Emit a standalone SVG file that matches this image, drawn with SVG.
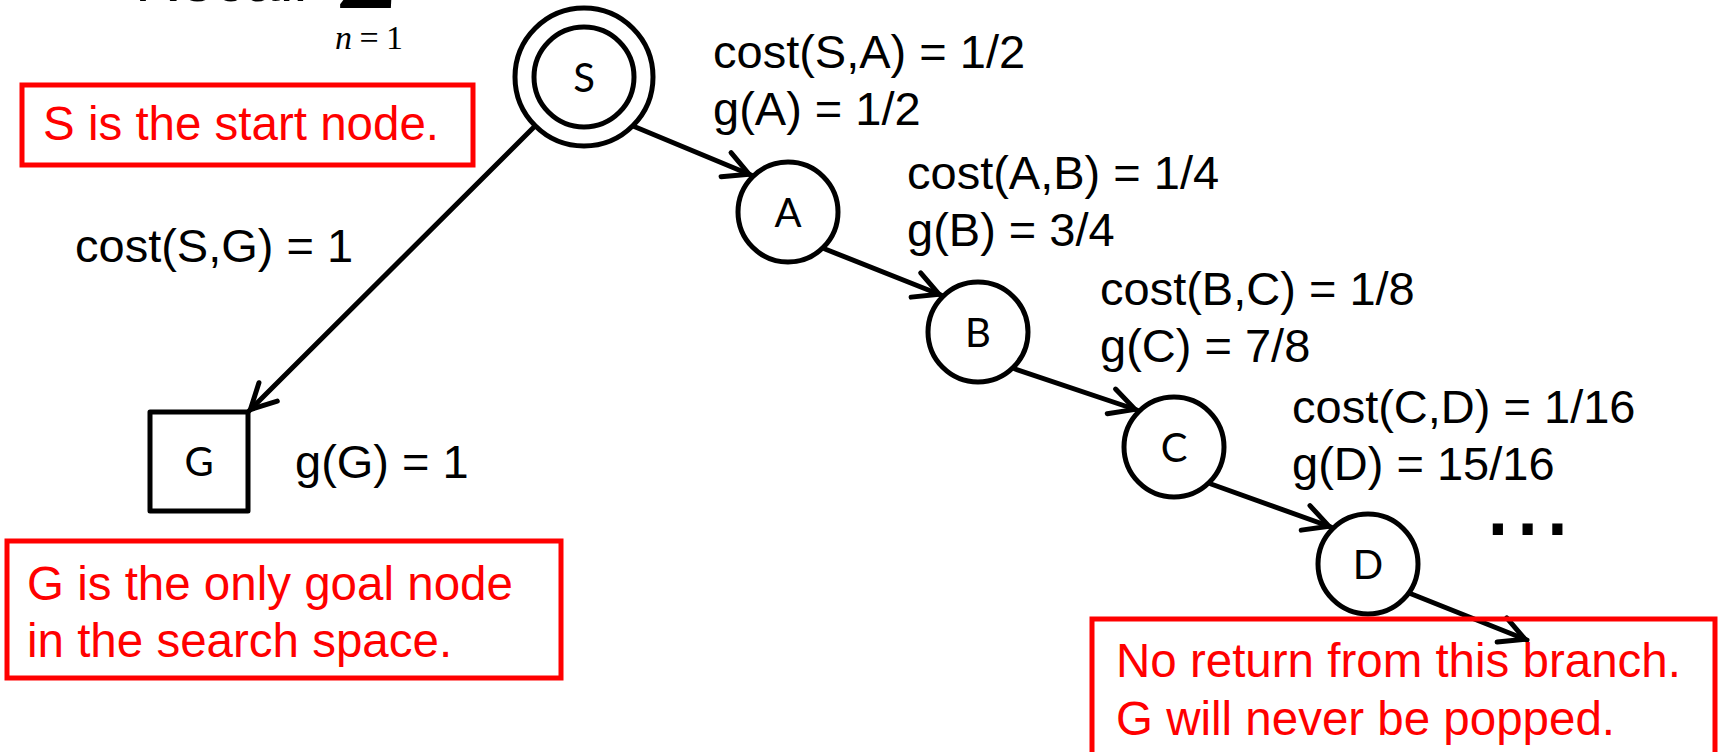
<svg xmlns="http://www.w3.org/2000/svg" width="1723" height="752" viewBox="0 0 1723 752">
<style>
.lbl{font-family:"Liberation Sans",Arial,sans-serif;font-size:47px;fill:#000}
.red{font-family:"Liberation Sans",Arial,sans-serif;font-size:47.5px;fill:#FF0000}
.node{fill:#fff;stroke:#000;stroke-width:5}
.nt{font-family:Lato,"Open Sans",sans-serif;font-size:40px;fill:#000;text-anchor:middle}
.box{fill:none;stroke:#FF0000;stroke-width:5}
.edge{fill:none;stroke:#000;stroke-width:5;stroke-linecap:round}
</style>
<defs>
<marker id="arr" markerUnits="userSpaceOnUse" markerWidth="40" markerHeight="40" viewBox="-35 -20 40 40" refX="0" refY="0" orient="auto" overflow="visible">
<path d="M-27,-13 L-2,0 L-27,13" fill="none" stroke="#000" stroke-width="5" stroke-linecap="round" stroke-linejoin="round"/>
</marker>
</defs>
<rect width="1723" height="752" fill="#fff"/>
<g id="recall">
<text x="135" y="1" style="font-family:'Liberation Sans',Arial,sans-serif;font-size:62px;fill:#000">Recall</text>
<text x="336" y="8" style="font-family:'Liberation Serif','DejaVu Serif',serif;font-size:105px;fill:#000">Σ</text>
<text x="335" y="49" textLength="68" lengthAdjust="spacing" style="font-family:'Liberation Serif','DejaVu Serif',serif;font-size:34px;fill:#000"><tspan font-style="italic">n</tspan>=1</text>
</g>
<g id="connectors">
<line class="edge" x1="633" y1="126" x2="751" y2="175" marker-end="url(#arr)"/>
<line class="edge" x1="825" y1="249" x2="941" y2="295" marker-end="url(#arr)"/>
<line class="edge" x1="1015" y1="369" x2="1137" y2="410" marker-end="url(#arr)"/>
<line class="edge" x1="1211" y1="484" x2="1331" y2="527" marker-end="url(#arr)"/>
<line class="edge" x1="1409" y1="593" x2="1527" y2="640" marker-end="url(#arr)"/>
<line class="edge" x1="535" y1="126" x2="249" y2="411" marker-end="url(#arr)"/>
</g>
<g id="node-S">
<circle class="node" cx="584" cy="77" r="69"/>
<circle class="node" cx="584" cy="77" r="50"/>
<text class="nt" x="584" y="92">S</text>
</g>
<g id="node-A">
<circle class="node" cx="788" cy="212" r="50"/>
<text class="nt" x="788" y="227">A</text>
</g>
<g id="node-B">
<circle class="node" cx="978" cy="332" r="50"/>
<text class="nt" x="978" y="347">B</text>
</g>
<g id="node-C">
<circle class="node" cx="1174" cy="447" r="50"/>
<text class="nt" x="1174" y="462">C</text>
</g>
<g id="node-D">
<circle class="node" cx="1368" cy="564" r="50"/>
<text class="nt" x="1368" y="579">D</text>
</g>
<g id="node-G">
<rect class="node" x="150" y="412" width="98" height="99" stroke-linejoin="round"/>
<text class="nt" x="199" y="476">G</text>
</g>
<g id="labels">
<text class="lbl" x="713" y="68">cost(S,A) = 1/2</text>
<text class="lbl" x="713" y="125">g(A) = 1/2</text>
<text class="lbl" x="907" y="189">cost(A,B) = 1/4</text>
<text class="lbl" x="907" y="246">g(B) = 3/4</text>
<text class="lbl" x="1100" y="305">cost(B,C) = 1/8</text>
<text class="lbl" x="1100" y="362">g(C) = 7/8</text>
<text class="lbl" x="1292" y="423">cost(C,D) = 1/16</text>
<text class="lbl" x="1292" y="480">g(D) = 15/16</text>
<text class="lbl" x="75" y="262">cost(S,G) = 1</text>
<text class="lbl" x="295" y="478">g(G) = 1</text>
<text class="lbl" x="1483" y="535" style="font-size:107px">...</text>
</g>
<g id="note-start">
<rect class="box" x="22" y="85" width="451" height="80"/>
<text class="red" x="43" y="140">S is the start node.</text>
</g>
<g id="note-goal">
<rect class="box" x="7" y="541" width="554" height="137"/>
<text class="red" x="27" y="600">G is the only goal node</text>
<text class="red" x="27" y="657">in the search space.</text>
</g>
<g id="note-branch">
<rect class="box" x="1092" y="619" width="623" height="150"/>
<text class="red" x="1116" y="677">No return from this branch.</text>
<text class="red" x="1116" y="735">G will never be popped.</text>
</g>
</svg>
